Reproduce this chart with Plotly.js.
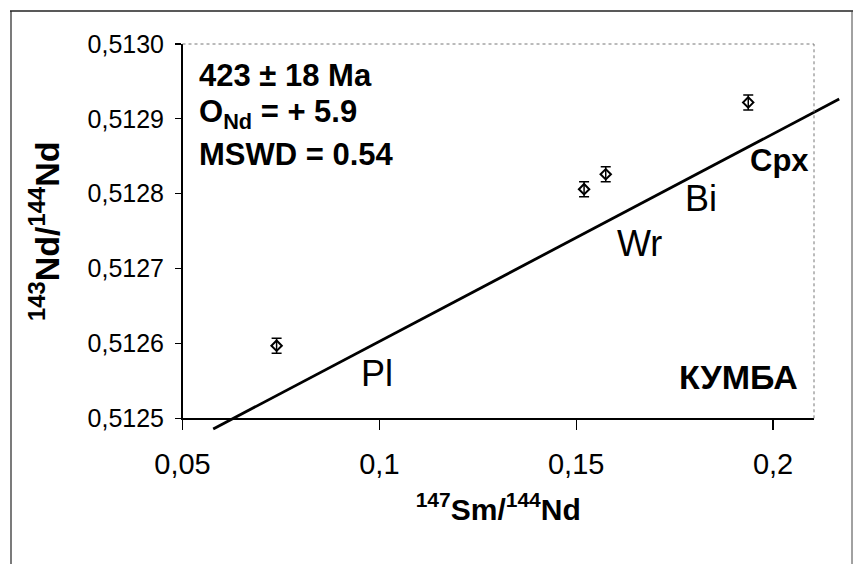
<!DOCTYPE html>
<html>
<head>
<meta charset="utf-8">
<script src="https://cdn.plot.ly/plotly-3.0.1.min.js"></script>
<style>html,body{margin:0;padding:0;background:#fff;}#chart{width:865px;height:564px;}</style>
</head>
<body>
<div id="chart"></div>
<script>
// ---- data ----
var sampleNames = ["Pl", "Wr", "Bi", "Cpx"];
var smNd = [0.0739, 0.1520, 0.1575, 0.1937];
var ndNd = [0.512597, 0.512806, 0.512826, 0.512922];
var ndErr = [0.00001, 0.00001, 0.00001, 0.00001];
var isoX = [0.0578, 0.2168];
var isoY = [0.5124857, 0.5129265];
var xTickVals = [0.05, 0.1, 0.15, 0.2];
var xTickText = ["0,05", "0,1", "0,15", "0,2"];
var yTickVals = [0.5125, 0.5126, 0.5127, 0.5128, 0.5129, 0.5130];
var yTickText = ["0,5125", "0,5126", "0,5127", "0,5128", "0,5129", "0,5130"];
var labelX = [0.0993, 0.1660, 0.1817, 0.2017];
var labelY = [0.512560, 0.512734, 0.512793, 0.512845];
var statLines = ["423 ± 18 Ma", "O<sub>Nd</sub> = + 5.9", "MSWD = 0.54"];
var regionName = "КУМБА";

// ---- layout geometry (pixels) ----
var W = 865, H = 564, M = 20;
var pw = W - 2 * M, ph = H - 2 * M;
var plotL = 182.5, plotR = 814, plotT = 44, plotB = 418.3;
function px2paperX(p) { return (p - M) / pw; }
function px2paperY(p) { return (H - M - p) / ph; }
var xRange = [0.05, 0.2104], yRange = [0.5125, 0.5130];
var xDom = [px2paperX(plotL), px2paperX(plotR)];
var yDom = [px2paperY(plotB), px2paperY(plotT)];
function extRange(r, d) {
  var s = (r[1] - r[0]) / (d[1] - d[0]);
  return [r[0] - d[0] * s, r[0] + (1 - d[0]) * s];
}

var FONT = "Liberation Sans, Arial, sans-serif";

var traces = [
  {
    x: isoX, y: isoY, xaxis: "x2", yaxis: "y2",
    mode: "lines", line: {color: "#000", width: 2.8},
    hoverinfo: "skip", showlegend: false
  },
  {
    x: smNd, y: ndNd, text: sampleNames, mode: "markers", type: "scatter",
    marker: {symbol: "diamond-open", size: 8, color: "#000", line: {color: "#000", width: 2}},
    error_y: {type: "data", array: ndErr, visible: true, color: "#000", thickness: 1.5, width: 5},
    showlegend: false
  }
];

var annotations = [];
for (var i = 0; i < sampleNames.length; i++) {
  var bold = sampleNames[i] === "Cpx";
  annotations.push({
    x: labelX[i], y: labelY[i], xref: "x", yref: "y",
    text: bold ? "<b>" + sampleNames[i] + "</b>" : sampleNames[i],
    showarrow: false, xanchor: "center", yanchor: "middle",
    font: {family: FONT, size: bold ? 31 : 36, color: "#000"}
  });
}
var statY = [76, 114, 154];
for (var j = 0; j < statLines.length; j++) {
  annotations.push({
    x: px2paperX(197), y: px2paperY(statY[j]), xref: "paper", yref: "paper",
    text: "<b>" + statLines[j] + "</b>", showarrow: false,
    xanchor: "left", yanchor: "middle",
    font: {family: FONT, size: 31, color: "#000"}
  });
}
annotations.push({
  x: 0.1911, y: 0.512555, xref: "x", yref: "y",
  text: "<b>" + regionName + "</b>", showarrow: false,
  xanchor: "center", yanchor: "middle",
  font: {family: FONT, size: 34, color: "#000"}
});

var shapes = [
  // dotted top and right frame of plot area
  {type: "line", xref: "paper", yref: "paper", x0: xDom[0], x1: xDom[1], y0: yDom[1], y1: yDom[1],
   line: {color: "#777", width: 1, dash: "dot"}},
  {type: "line", xref: "paper", yref: "paper", x0: xDom[1], x1: xDom[1], y0: yDom[0], y1: yDom[1],
   line: {color: "#777", width: 1, dash: "dot"}},
  // outer border of figure
  {type: "line", xref: "paper", yref: "paper", x0: px2paperX(10), x1: px2paperX(853), y0: px2paperY(11), y1: px2paperY(11),
   line: {color: "#222", width: 1.5}},
  {type: "line", xref: "paper", yref: "paper", x0: px2paperX(11), x1: px2paperX(11), y0: px2paperY(11), y1: px2paperY(570),
   line: {color: "#222", width: 1.2}},
  {type: "line", xref: "paper", yref: "paper", x0: px2paperX(852), x1: px2paperX(852), y0: px2paperY(11), y1: px2paperY(570),
   line: {color: "#444", width: 1}}
];

var layout = {
  width: W, height: H,
  margin: {l: M, r: M, t: M, b: M},
  paper_bgcolor: "#fff", plot_bgcolor: "rgba(0,0,0,0)",
  showlegend: false,
  xaxis: {
    domain: xDom, range: xRange, anchor: "y",
    tickvals: xTickVals, ticktext: xTickText,
    ticks: "outside", ticklen: 10, tickwidth: 1.2, tickcolor: "#000",
    showline: true, linecolor: "#000", linewidth: 1.5,
    showgrid: false, zeroline: false,
    tickfont: {family: FONT, size: 29, color: "#000"},
    ticklabelstandoff: 9,
    title: {text: "<b><sup>147</sup>Sm/<sup>144</sup>Nd</b>", font: {family: FONT, size: 30, color: "#000"}, standoff: 20}
  },
  yaxis: {
    domain: yDom, range: yRange, anchor: "x",
    tickvals: yTickVals, ticktext: yTickText,
    ticks: "outside", ticklen: 6, tickwidth: 1.2, tickcolor: "#000",
    showline: true, linecolor: "#000", linewidth: 1.5,
    showgrid: false, zeroline: false,
    tickfont: {family: FONT, size: 25, color: "#000"},
    ticklabelstandoff: 6,
    title: {text: "<b><sup>143</sup>Nd/<sup>144</sup>Nd</b>", font: {family: FONT, size: 34, color: "#000"}, standoff: 17}
  },
  xaxis2: {domain: [0, 1], range: extRange(xRange, xDom), anchor: "y2", visible: false, fixedrange: true},
  yaxis2: {domain: [0, 1], range: extRange(yRange, yDom), anchor: "x2", visible: false, fixedrange: true},
  annotations: annotations,
  shapes: shapes
};

Plotly.newPlot("chart", traces, layout, {displayModeBar: false, staticPlot: true});
</script>
</body>
</html>
